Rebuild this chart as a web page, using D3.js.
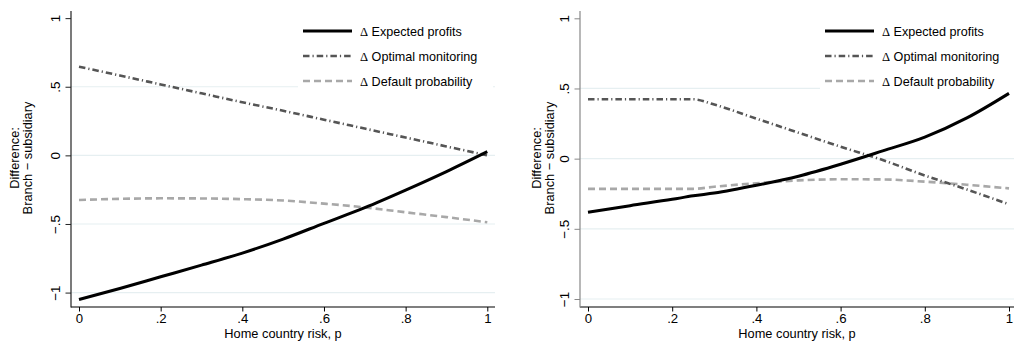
<!DOCTYPE html>
<html><head><meta charset="utf-8">
<script src="https://cdn.jsdelivr.net/npm/d3@7"></script>
<style>body{margin:0;background:#fff}svg{display:block}text{font-family:"Liberation Sans",Arial,sans-serif;fill:#000}</style>
</head><body><svg id="c" width="1014" height="360"></svg>
<script>
const xTicks=[0,0.2,0.4,0.6,0.8,1];
const xTickLabels=["0",".2",".4",".6",".8","1"];
const yTicks=[-1,-0.5,0,0.5,1];
const yTickLabels=["−1","−.5","0",".5","1"];
const seriesNames=["Expected profits","Optimal monitoring","Default probability"];
// Left panel
const pL=[0,0.1,0.2,0.3,0.4,0.5,0.6,0.7,0.8,0.9,1];
const profitsL=[-1.05,-0.97,-0.885,-0.80,-0.712,-0.61,-0.495,-0.381,-0.253,-0.118,0.027];
const monitorL=[0.646,0.582,0.517,0.452,0.387,0.325,0.26,0.195,0.13,0.065,0.0];
const defaultL=[-0.325,-0.317,-0.313,-0.314,-0.319,-0.329,-0.352,-0.379,-0.415,-0.45,-0.488];
// Right panel
const pR=[0,0.1,0.2,0.25,0.3,0.4,0.5,0.6,0.7,0.8,0.9,1];
const profitsR=[-0.382,-0.335,-0.29,-0.265,-0.245,-0.19,-0.125,-0.04,0.055,0.153,0.29,0.465];
const monitorR=[0.423,0.423,0.423,0.423,0.385,0.285,0.185,0.085,-0.01,-0.12,-0.22,-0.325];
const defaultR=[-0.215,-0.215,-0.215,-0.215,-0.2,-0.175,-0.155,-0.147,-0.148,-0.164,-0.186,-0.212];

const svg=d3.select("#c");
const styles=[
 {stroke:"#000",width:3,dash:null},
 {stroke:"#555",width:2.6,dash:"6.5,3,1.2,3"},
 {stroke:"#a8a8a8",width:2.6,dash:"7,4"}
];
function panel(cfg){
 const g=svg.append("g");
 const x=d3.scaleLinear().domain([0,1]).range(cfg.xr);
 const y=d3.scaleLinear().domain(cfg.yd).range([307,11]);
 g.selectAll(".grid").data(yTicks.filter(v=>v<1)).join("line")
  .attr("x1",cfg.ax).attr("x2",cfg.axEnd).attr("y1",d=>y(d)).attr("y2",d=>y(d))
  .attr("stroke","#e6eff1").attr("stroke-width",1.2);
 const data=[cfg.prof,cfg.mon,cfg.def];
 const line=d3.line().x((d,i)=>x(cfg.p[i])).y(d=>y(d)).curve(d3.curveMonotoneX);
 [2,1,0].forEach(k=>{
  g.append("path").attr("d",line(data[k])).attr("fill","none")
   .attr("stroke",styles[k].stroke).attr("stroke-width",styles[k].width)
   .attr("stroke-dasharray",styles[k].dash);
 });
 const lg=g.append("g");
 lg.append("rect").attr("x",cfg.lgBox[0]).attr("y",17).attr("width",cfg.lgBox[1]-cfg.lgBox[0]).attr("height",75).attr("fill","#fff");
 seriesNames.forEach((n,k)=>{
  const yy=31+k*25;
  lg.append("line").attr("x1",cfg.lgX).attr("x2",cfg.lgX+49).attr("y1",yy).attr("y2",yy)
   .attr("stroke",styles[k].stroke).attr("stroke-width",styles[k].width).attr("stroke-dasharray",styles[k].dash);
  const t=lg.append("text").attr("x",cfg.lgX+57).attr("y",yy+4.5).style("font-size","12.6px");
  t.append("tspan").style("font-family","'Liberation Serif',serif").text("Δ");
  t.append("tspan").text(" "+n);
 });
 const xa=g.append("g").attr("transform","translate(0,307)")
  .call(d3.axisBottom(x).tickValues(xTicks).tickFormat((d,i)=>xTickLabels[i]).tickSize(4.5).tickPadding(3));
 xa.select(".domain").remove();
 xa.selectAll("line").attr("stroke","#000");
 xa.selectAll("text").attr("y",16).attr("dy",null).style("font-size","13.2px").attr("fill","#000");
 g.append("line").attr("x1",cfg.ax).attr("x2",cfg.axEnd).attr("y1",307).attr("y2",307).attr("stroke","#000").attr("stroke-width",1.2);
 const ya=g.append("g").attr("transform",`translate(${cfg.ax},0)`)
  .call(d3.axisLeft(y).tickValues(yTicks).tickFormat((d,i)=>yTickLabels[i]).tickSize(5.5).tickPadding(0));
 ya.select(".domain").remove();
 ya.selectAll("line").attr("stroke",cfg.ycol);
 ya.selectAll("text").attr("x",null).attr("dy",null)
  .attr("text-anchor","middle").attr("transform",`translate(-11,0) rotate(-90)`)
  .style("font-size","13.4px").attr("fill","#000");
 g.append("line").attr("x1",cfg.ax).attr("x2",cfg.ax).attr("y1",11).attr("y2",307.6).attr("stroke",cfg.ycol).attr("stroke-width",1.2);
 const cx=(cfg.ax+cfg.axEnd)/2;
 g.append("text").attr("x",cx).attr("y",338).attr("text-anchor","middle").style("font-size","12.8px").text("Home country risk, p");
 const yt=g.append("text").attr("transform",`translate(${cfg.titleX},158) rotate(-90)`).attr("text-anchor","middle").style("font-size","12.8px");
 yt.append("tspan").attr("x",0).attr("y",0).text("Difference:");
 yt.append("tspan").attr("x",0).attr("y",12.5).text("Branch − subsidiary");
}
panel({xr:[79,487.3],yd:[-1.105,1.052],ax:71,axEnd:495,p:pL,prof:profitsL,mon:monitorL,def:defaultL,lgBox:[298,493],lgX:303,ycol:"#222",titleX:19});
panel({xr:[588,1009],yd:[-1.057,1.052],ax:580,axEnd:1014,p:pR,prof:profitsR,mon:monitorR,def:defaultR,lgBox:[820,1014],lgX:825,ycol:"#888",titleX:541});
</script></body></html>
